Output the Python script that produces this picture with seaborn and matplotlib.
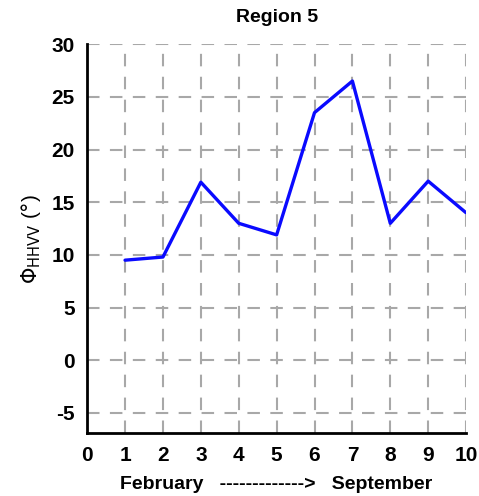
import numpy as np
import pandas as pd
import matplotlib
matplotlib.use("Agg")
import matplotlib.pyplot as plt
import seaborn as sns
from matplotlib.ticker import MultipleLocator

# Region 5 phase difference, Feb -> Sep
months = [1, 2, 3, 4, 5, 6, 7, 8, 9, 10]
phi_hhvv = [9.5, 9.8, 16.9, 13.0, 11.9, 23.5, 26.5, 13.0, 17.0, 14.0]

df = pd.DataFrame({"month": months, "phi": phi_hhvv})

sns.set_style("white")
plt.rcParams['font.family'] = ['Liberation Sans', 'DejaVu Sans']
plt.rcParams['axes.unicode_minus'] = False
plt.rcParams['text.color'] = 'black'
plt.rcParams['axes.labelcolor'] = 'black'

fig = plt.figure(figsize=(4.79, 4.96), dpi=100)
ax = fig.add_axes([0.182, 0.127, 0.791, 0.784])

sns.lineplot(data=df, x="month", y="phi", color="#0a0aff", lw=2.4, ax=ax)

ax.set_xlim(0, 10)
ax.set_ylim(-6.9, 30)
ax.xaxis.set_major_locator(MultipleLocator(1))
ax.xaxis.set_minor_locator(MultipleLocator(0.5))
ax.yaxis.set_major_locator(MultipleLocator(5))

ax.grid(True, which="major", color="#a8a8a8", ls=(0, (6, 5)), lw=1.5)
ax.set_axisbelow(True)

for s in ["top", "right"]:
    ax.spines[s].set_visible(False)
for s in ["left", "bottom"]:
    ax.spines[s].set_color("black")
    ax.spines[s].set_linewidth(2)

ax.tick_params(axis="both", which="major", direction="out", length=6, width=2,
               labelsize=15, colors="black", pad=3)
ax.tick_params(axis="x", which="minor", direction="inout", length=4, width=1.5)
for lab in ax.get_xticklabels() + ax.get_yticklabels():
    lab.set_fontweight("bold")

ax.set_title("Region 5", fontsize=14, fontweight="bold", pad=16, color="black")
ax.set_xlabel("February   ------------->   September", fontsize=14,
              fontweight="bold", labelpad=8, color="black")
ax.set_ylabel(r"$\Phi_{\mathrm{HHVV}}$ ($\degree$)", fontsize=15, labelpad=6,
              color="black")

fig.savefig("out.png", dpi=100)
